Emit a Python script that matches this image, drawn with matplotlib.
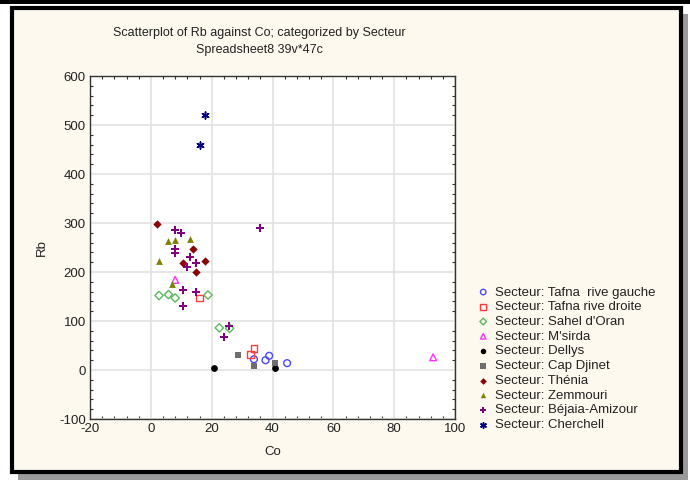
import numpy as np
import matplotlib
matplotlib.use("Agg")
from matplotlib import pyplot as plt
from matplotlib.patches import Rectangle
from matplotlib.ticker import MultipleLocator

plt.rcParams['font.family'] = ['Liberation Sans', 'DejaVu Sans']
plt.rcParams['axes.unicode_minus'] = False

# values, per sector
tafna_g_co = [33.9, 37.7, 38.9, 44.8]
tafna_g_rb = [22, 20, 29, 14]
tafna_d_co = [16.0, 33.9, 32.8]
tafna_d_rb = [147, 44, 32]
sahel_co = [2.7, 5.8, 8.0, 18.8, 22.5, 25.9]
sahel_rb = [152, 154, 147, 153, 86, 85]
msirda_co = [8.0, 92.8]
msirda_rb = [184, 26]
dellys_co = [20.9, 40.8]
dellys_rb = [5, 5]
capdj_co = [28.7, 33.9, 40.8]
capdj_rb = [30, 8, 15]
thenia_co = [1.9, 14.0, 17.9, 10.7, 14.8]
thenia_rb = [298, 246, 222, 218, 199]
zemm_co = [5.8, 8.0, 12.8, 2.7, 6.8]
zemm_rb = [264, 265, 267, 222, 175]
bejaia_co = [7.9, 9.9, 7.8, 7.9, 12.8, 14.9, 12.0, 10.7, 14.8, 10.7, 25.8, 24.0, 35.9]
bejaia_rb = [286, 279, 246, 238, 231, 219, 211, 163, 160, 131, 90, 67, 289]
cherch_co = [17.7, 16.0]
cherch_rb = [520, 460]

series = [
    ("Secteur: Tafna  rive gauche", tafna_g_co, tafna_g_rb, 'o', '#4a4aff', False),
    ("Secteur: Tafna rive droite", tafna_d_co, tafna_d_rb, 's', '#ff3c3c', False),
    ("Secteur: Sahel d'Oran", sahel_co, sahel_rb, 'D', '#5cb85c', False),
    ("Secteur: M'sirda", msirda_co, msirda_rb, '^', '#ff30ff', False),
    ("Secteur: Dellys", dellys_co, dellys_rb, 'o', '#000000', True),
    ("Secteur: Cap Djinet", capdj_co, capdj_rb, 's', '#6e6e6e', True),
    ("Secteur: Thénia", thenia_co, thenia_rb, 'D', '#8b0000', True),
    ("Secteur: Zemmouri", zemm_co, zemm_rb, '^', '#7f7f00', True),
    ("Secteur: Béjaia-Amizour", bejaia_co, bejaia_rb, 'P', '#800080', True),
    ("Secteur: Cherchell", cherch_co, cherch_rb, (6, 2, 0), '#000080', True),
]

fig = plt.figure(figsize=(6.9, 4.86), dpi=100)
fig.patch.set_facecolor('white')

# framed panel with a drop shadow
fig.patches.append(Rectangle((0.0, 1 - 4 / 486), 1.0, 4 / 486, transform=fig.transFigure,
                             facecolor='black', edgecolor='none', zorder=-3))
fig.patches.append(Rectangle((18 / 690, 6 / 486), 670 / 690, 466 / 486, transform=fig.transFigure,
                             facecolor='#9a9a9a', edgecolor='none', zorder=-3))
fig.patches.append(Rectangle((12 / 690, 14 / 486), 669 / 690, 464 / 486, transform=fig.transFigure,
                             facecolor='#fdf9ef', edgecolor='black', linewidth=3, zorder=-2))

ax = fig.add_axes([90 / 690, 1 - 419 / 486, 365 / 690, 343 / 486])
ax.set_facecolor('white')

for label, xs, ys, mk, col, filled in series:
    if mk == 'P':
        ax.scatter(xs, ys, marker='P', s=28, color=col, linewidths=0, label=label, zorder=3)
    elif mk == (6, 2, 0):
        ax.scatter(xs, ys, marker=mk, s=26, color=col, linewidths=1.1, label=label, zorder=3)
    elif filled:
        ax.scatter(xs, ys, marker=mk, s=24 if mk != 'D' else 18, color=col, linewidths=0,
                   label=label, zorder=3)
    else:
        ax.scatter(xs, ys, marker=mk, s=24 if mk != 'D' else 18, facecolors='none',
                   edgecolors=col, linewidths=1.0, label=label, zorder=3)

ax.set_xlim(-20, 100)
ax.set_ylim(-100, 600)
ax.xaxis.set_major_locator(MultipleLocator(20))
ax.xaxis.set_minor_locator(MultipleLocator(4))
ax.yaxis.set_major_locator(MultipleLocator(100))
ax.yaxis.set_minor_locator(MultipleLocator(20))
ax.tick_params(which='both', direction='in', top=True, right=True, colors='#333333',
               labelcolor='#222222', labelsize=9.5)
ax.tick_params(which='major', length=0, pad=3)
ax.tick_params(which='minor', length=2.5, width=0.8)
ax.grid(True, which='major', color='#e2e2e2', linewidth=1.2)
ax.set_axisbelow(True)
for sp in ax.spines.values():
    sp.set_color('#333333')
    sp.set_linewidth(1.0)

ax.set_xlabel('Co', fontsize=9.5, color='#222222', labelpad=8)
ax.set_ylabel('Rb', fontsize=9.5, color='#222222', labelpad=8)
fig.text(259 / 690, 1 - 33 / 486, 'Scatterplot of Rb against Co; categorized by Secteur',
         ha='center', va='center', fontsize=9, color='#222222')
fig.text(259 / 690, 1 - 50 / 486, 'Spreadsheet8 39v*47c',
         ha='center', va='center', fontsize=9, color='#222222')

leg = ax.legend(loc='upper left', bbox_to_anchor=(470 / 690, 1 - 281 / 486),
                bbox_transform=fig.transFigure, frameon=False, fontsize=9.5,
                handletextpad=0.3, labelspacing=0.19, borderaxespad=0, markerscale=0.8,
                handlelength=1.2)
for t in leg.get_texts():
    t.set_color('#222222')

fig.savefig('out.png', dpi=100)
